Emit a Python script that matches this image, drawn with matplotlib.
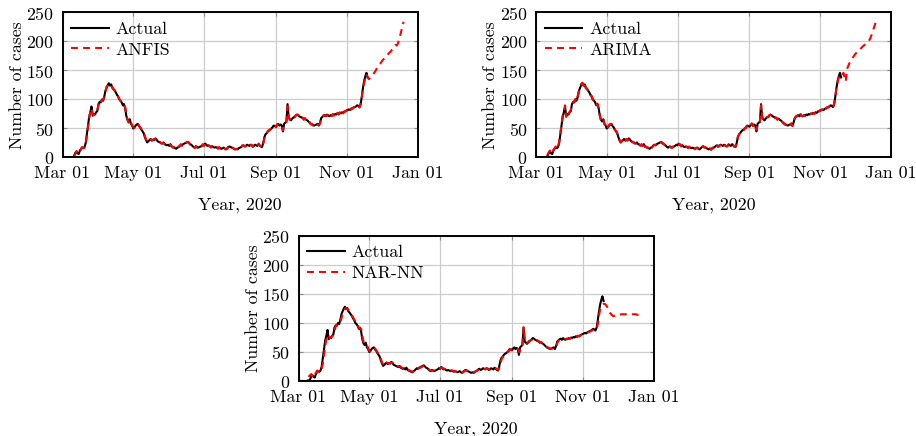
import matplotlib.pyplot as plt
import matplotlib.dates as mdates
import pandas as pd

plt.rcParams["font.family"] = "serif"
plt.rcParams["font.serif"] = ["cmr10"]
plt.rcParams["mathtext.fontset"] = "cm"
plt.rcParams["axes.formatter.use_mathtext"] = True
plt.rcParams["font.size"] = 12.8

START = "2020-03-01"

# daily reported cases, 1 Mar - 19 Nov 2020
actual = [
    0, 0, 0, 0, 0, 0, 0, 0, 1, 0,
    3, 8, 10, 7, 6, 12, 15, 17, 16, 18,
    25, 40, 55, 70, 78, 88, 72, 75, 74, 78,
    80, 92, 96, 95, 100, 98, 105, 115, 120, 125,
    128, 124, 126, 120, 118, 115, 112, 108, 105, 100,
    98, 95, 90, 92, 85, 72, 65, 62, 66, 58,
    55, 50, 52, 55, 57, 58, 54, 52, 48, 45,
    42, 35, 30, 26, 28, 30, 32, 29, 31, 30,
    33, 31, 28, 27, 26, 25, 24, 26, 23, 22,
    21, 22, 20, 23, 19, 18, 17, 16, 15, 17,
    18, 20, 22, 21, 23, 24, 25, 26, 27, 25,
    23, 22, 20, 18, 17, 19, 18, 17, 18, 19,
    20, 22, 21, 24, 22, 20, 21, 19, 18, 19,
    18, 17, 18, 17, 16, 17, 16, 15, 16, 17,
    15, 14, 16, 18, 19, 18, 17, 16, 15, 14,
    15, 14, 16, 17, 18, 20, 21, 19, 20, 22,
    21, 20, 22, 21, 19, 20, 22, 21, 20, 23,
    21, 19, 18, 25, 35, 40, 42, 45, 47, 48,
    50, 52, 55, 54, 53, 56, 58, 55, 57, 55,
    45, 58, 60, 62, 92, 68, 66, 64, 67, 69,
    70, 72, 74, 73, 71, 70, 69, 68, 66, 67,
    65, 64, 62, 60, 58, 57, 56, 55, 56, 57,
    58, 55, 60, 68, 70, 72, 73, 71, 74, 72,
    71, 73, 72, 74, 73, 75, 74, 76, 75, 77,
    76, 78, 77, 79, 80, 81, 82, 83, 82, 84,
    85, 86, 87, 88, 90, 89, 87, 92, 105, 120,
    132, 140, 146, 138,
]

# ANFIS fit + forecast up to 20 Dec
anfis = [
    0, 0, 0, 0, 0, 0, 0, 0, 0, 1,
    2, 6, 11, 8, 7, 10, 14, 18, 17, 17,
    22, 38, 52, 68, 80, 85, 76, 73, 76, 77,
    82, 90, 97, 94, 99, 100, 104, 113, 122, 124,
    127, 125, 124, 121, 117, 116, 111, 109, 104, 101,
    97, 96, 91, 90, 87, 75, 66, 60, 65, 60,
    56, 52, 51, 54, 58, 57, 55, 51, 49, 46,
    43, 37, 31, 27, 27, 31, 31, 30, 30, 31,
    32, 31, 29, 26, 27, 24, 25, 25, 24, 21,
    22, 21, 21, 22, 20, 17, 18, 15, 16, 16,
    19, 19, 23, 20, 22, 25, 24, 27, 26, 26,
    22, 23, 19, 19, 16, 20, 17, 18, 17, 20,
    19, 23, 20, 25, 21, 21, 20, 20, 17, 20,
    17, 18, 17, 18, 15, 18, 15, 16, 15, 18,
    14, 15, 15, 19, 18, 19, 16, 17, 14, 15,
    14, 15, 15, 18, 17, 21, 20, 20, 19, 23,
    20, 21, 21, 22, 18, 21, 21, 22, 19, 24,
    20, 20, 17, 24, 33, 41, 41, 46, 46, 49,
    49, 53, 54, 55, 52, 57, 57, 56, 56, 56,
    47, 56, 61, 61, 88, 70, 65, 65, 66, 70,
    69, 73, 73, 74, 70, 71, 68, 69, 65, 68,
    64, 65, 61, 61, 57, 58, 55, 56, 55, 58,
    57, 56, 59, 69, 69, 73, 72, 72, 73, 73,
    70, 74, 71, 75, 72, 76, 73, 77, 74, 78,
    75, 79, 76, 80, 79, 82, 81, 84, 81, 85,
    84, 87, 86, 89, 89, 90, 86, 93, 103, 122,
    128, 138, 143, 139,
    135, 137, 139, 141, 144, 147, 150, 154, 157, 160,
    162, 165, 168, 170, 172, 174, 177, 179, 181, 183,
    186, 188, 191, 194, 193, 196, 202, 210, 218, 226,
    234,
]

# ARIMA fit + forecast up to 19 Dec
arima = [
    0, 0, 0, 0, 0, 0, 0, 0, 0, 2,
    5, 9, 12, 6, 8, 13, 16, 19, 15, 19,
    28, 42, 57, 72, 76, 90, 70, 77, 73, 79,
    82, 93, 95, 97, 101, 97, 106, 114, 121, 127,
    129, 122, 127, 119, 119, 114, 113, 107, 106, 99,
    99, 94, 91, 93, 84, 73, 63, 63, 67, 57,
    56, 49, 53, 56, 58, 57, 53, 53, 47, 46,
    41, 36, 29, 26, 29, 30, 33, 28, 32, 29,
    34, 30, 29, 26, 27, 24, 25, 27, 22, 23,
    20, 23, 19, 24, 18, 19, 16, 17, 14, 18,
    17, 21, 21, 22, 22, 25, 24, 27, 26, 24,
    24, 21, 21, 17, 18, 18, 19, 16, 19, 18,
    21, 21, 22, 23, 23, 19, 22, 18, 19, 18,
    19, 16, 19, 16, 17, 16, 17, 14, 17, 16,
    16, 13, 17, 17, 20, 17, 18, 15, 16, 13,
    16, 13, 17, 16, 19, 19, 22, 18, 21, 21,
    22, 19, 23, 20, 20, 19, 23, 20, 21, 22,
    22, 18, 19, 24, 36, 39, 43, 44, 48, 47,
    51, 51, 56, 53, 54, 55, 59, 54, 58, 54,
    47, 57, 61, 61, 90, 70, 65, 65, 66, 70,
    69, 73, 73, 74, 70, 71, 68, 69, 65, 68,
    66, 63, 63, 59, 59, 56, 57, 54, 57, 56,
    59, 54, 62, 67, 71, 71, 74, 70, 75, 71,
    72, 72, 73, 73, 74, 74, 75, 75, 76, 76,
    75, 79, 76, 80, 79, 82, 81, 84, 81, 85,
    84, 87, 86, 89, 89, 90, 86, 93, 103, 122,
    130, 138, 143, 141,
    143, 146, 138, 131,
    152, 157, 162, 166, 169, 172, 175, 178, 180, 183,
    185, 186, 188, 190, 192, 194, 195, 197, 199, 201,
    205, 210, 215, 222, 228, 235,
]

# NAR-NN fit + forecast up to 19 Dec
nar_nn = [
    0, 0, 0, 0, 0, 0, 0, 2, 5, 8,
    10, 12, 9, 15, 12, 14, 18, 16, 20, 18,
    22, 30, 45, 60, 72, 76, 80, 74, 76, 77,
    79, 85, 94, 97, 96, 99, 101, 108, 116, 121,
    124, 126, 124, 123, 119, 117, 113, 110, 106, 102,
    99, 96, 92, 91, 90, 78, 68, 64, 64, 62,
    57, 52, 51, 53, 56, 57, 56, 53, 50, 46,
    44, 38, 32, 27, 27, 29, 31, 31, 30, 31,
    31, 32, 30, 28, 27, 26, 25, 25, 25, 23,
    22, 22, 21, 22, 21, 19, 18, 17, 16, 16,
    17, 19, 21, 22, 22, 23, 24, 25, 26, 26,
    25, 23, 21, 19, 18, 18, 18, 18, 18, 19,
    20, 21, 22, 22, 23, 21, 21, 20, 19, 19,
    18, 18, 18, 18, 17, 17, 16, 16, 16, 17,
    16, 15, 15, 17, 18, 18, 18, 17, 16, 15,
    15, 15, 15, 17, 18, 19, 20, 20, 20, 21,
    21, 21, 21, 22, 20, 20, 21, 22, 21, 22,
    22, 20, 19, 22, 30, 37, 41, 44, 46, 47,
    49, 51, 53, 55, 54, 55, 57, 56, 56, 56,
    50, 52, 58, 61, 94, 70, 67, 65, 66, 68,
    70, 71, 73, 73, 72, 71, 70, 69, 67, 67,
    66, 65, 63, 61, 59, 58, 57, 56, 56, 56,
    57, 57, 58, 65, 69, 71, 72, 72, 73, 73,
    72, 72, 73, 73, 74, 74, 75, 75, 76, 76,
    77, 77, 78, 78, 80, 80, 81, 82, 83, 83,
    84, 85, 86, 87, 88, 89, 89, 90, 98, 112,
    124, 128, 130, 133,
    133, 131, 128, 124, 119, 116, 114, 112, 112, 113,
    114, 114, 114, 114, 115, 115, 115, 115, 115, 115,
    115, 115, 115, 115, 115, 115, 115, 115, 114, 114,
]

y_ticks = [0, 50, 100, 150, 200, 250]
x_ticks = ["2020-03-01", "2020-05-01", "2020-07-01",
           "2020-09-01", "2020-11-01", "2021-01-01"]


def days(values):
    return pd.date_range(START, periods=len(values), freq="D")


def draw_panel(ax, model, name):
    ax.plot(days(actual), actual, color="black", lw=1.5, label="Actual")
    ax.plot(days(model), model, color="red", lw=1.5,
            linestyle=(0, (3.3, 2.5)), label=name)

    ax.set_xlim(pd.Timestamp(x_ticks[0]), pd.Timestamp(x_ticks[-1]))
    ax.set_ylim(0, 250)
    ax.set_xticks([pd.Timestamp(t) for t in x_ticks])
    ax.xaxis.set_major_formatter(mdates.DateFormatter("%b %d"))
    ax.set_yticks(y_ticks)

    ax.grid(True, color="#cccccc", lw=0.9)
    ax.set_axisbelow(True)
    ax.tick_params(direction="in", length=3, width=0.8, color="#888888",
                   top=True, right=True, labelsize=12.8)
    ax.tick_params(axis="x", pad=6)
    ax.tick_params(axis="y", pad=6)
    for spine in ax.spines.values():
        spine.set_linewidth(1.4)
        spine.set_color("black")

    ax.set_xlabel("Year, 2020", labelpad=12)
    ax.set_ylabel("Number of cases", labelpad=1)
    ax.legend(loc="upper left", frameon=False, handlelength=2.1,
              handletextpad=0.4, borderaxespad=0.2, borderpad=0.3,
              labelspacing=0.3)


fig = plt.figure(figsize=(9.16, 4.36), dpi=100)

w, h = 355 / 916, 145 / 436
ax1 = fig.add_axes([62.5 / 916, 1 - 157.5 / 436, w, h])
ax2 = fig.add_axes([536 / 916, 1 - 157.5 / 436, w, h])
ax3 = fig.add_axes([298.5 / 916, 1 - 381 / 436, w, h])

draw_panel(ax1, anfis, "ANFIS")
draw_panel(ax2, arima, "ARIMA")
draw_panel(ax3, nar_nn, "NAR-NN")

fig.savefig("out.png", dpi=100)
